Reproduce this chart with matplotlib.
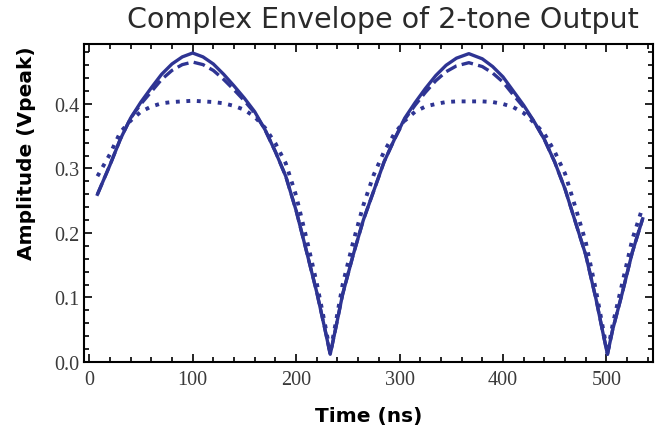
import matplotlib
matplotlib.use('Agg')
import matplotlib.pyplot as plt
from matplotlib.ticker import MultipleLocator, FormatStrFormatter

# time samples (ns)
t = [8, 20, 30, 40, 50, 60, 70, 80, 90, 100,
     110, 120, 130, 140, 150, 160, 170, 180, 190, 200, 210, 220,
     228, 233, 238,
     245, 255, 265, 275, 285, 295, 305, 315, 325, 335, 345, 355,
     367,
     380, 390, 400, 410, 420, 430, 440, 450, 460, 470, 480, 490,
     496, 501, 506, 515, 525, 535]

# solid curve
solid = [0.260, 0.305, 0.345, 0.378, 0.403, 0.425, 0.446, 0.462, 0.473, 0.479,
         0.473, 0.462, 0.446, 0.428, 0.409, 0.388, 0.360, 0.326, 0.288, 0.235, 0.172, 0.108,
         0.050, 0.012, 0.050,
         0.105, 0.165, 0.220, 0.265, 0.310, 0.345, 0.378, 0.402, 0.424, 0.444, 0.460, 0.471,
         0.478,
         0.470, 0.458, 0.442, 0.420, 0.398, 0.373, 0.345, 0.310, 0.268, 0.217, 0.166, 0.097,
         0.050, 0.012, 0.050, 0.105, 0.170, 0.222]

# dashed curve
dashed = [0.260, 0.305, 0.345, 0.378, 0.400, 0.419, 0.438, 0.452, 0.461, 0.465,
          0.461, 0.452, 0.438, 0.422, 0.405, 0.386, 0.360, 0.326, 0.288, 0.235, 0.172, 0.108,
          0.050, 0.012, 0.050,
          0.105, 0.165, 0.220, 0.265, 0.310, 0.345, 0.376, 0.398, 0.418, 0.436, 0.450, 0.459,
          0.464,
          0.458, 0.448, 0.434, 0.414, 0.395, 0.373, 0.345, 0.310, 0.268, 0.217, 0.166, 0.097,
          0.050, 0.012, 0.050, 0.105, 0.170, 0.222]

# dotted curve
dotted = [0.288, 0.322, 0.356, 0.374, 0.388, 0.396, 0.401, 0.403, 0.404, 0.405,
          0.404, 0.403, 0.401, 0.397, 0.391, 0.380, 0.363, 0.339, 0.308, 0.258, 0.192, 0.122,
          0.058, 0.015, 0.058,
          0.120, 0.185, 0.243, 0.290, 0.326, 0.354, 0.374, 0.388, 0.396, 0.400, 0.403, 0.404,
          0.404,
          0.404, 0.403, 0.400, 0.395, 0.386, 0.371, 0.354, 0.326, 0.292, 0.240, 0.186, 0.110,
          0.058, 0.015, 0.058, 0.120, 0.190, 0.240]

col = '#2e3493'

fig = plt.figure(figsize=(6.7, 4.35), dpi=100)
ax = fig.add_axes([0.1254, 0.1655, 0.8492, 0.7311])

ax.plot(t, solid, color=col, lw=2.4, ls='-')
ax.plot(t, dashed, color=col, lw=2.4, ls=(0, (3.5, 1.6)))
ax.plot(t, dotted, color=col, lw=2.8, ls=(0, (1.0, 1.7)))

ax.set_xlim(-5, 545)
ax.set_ylim(0, 0.493)

ax.xaxis.set_major_locator(MultipleLocator(100))
ax.xaxis.set_minor_locator(MultipleLocator(20))
ax.yaxis.set_major_locator(MultipleLocator(0.1))
ax.yaxis.set_minor_locator(MultipleLocator(0.02))
ax.yaxis.set_major_formatter(FormatStrFormatter('%.1f'))

ax.tick_params(which='both', direction='in', top=True, right=True, width=1.2, colors='black')
ax.tick_params(which='major', length=6)
ax.tick_params(which='minor', length=3.5)
ax.tick_params(axis='x', pad=6)
for lab in ax.get_xticklabels() + ax.get_yticklabels():
    lab.set_fontfamily('Liberation Serif')
    lab.set_fontsize(14.5)
    lab.set_color('#3a3a3a')
for sp in ax.spines.values():
    sp.set_linewidth(1.5)

ax.set_xlabel('Time (ns)', fontsize=14.5, fontweight='bold', family='DejaVu Sans Condensed', labelpad=12)
ax.set_ylabel('Amplitude (Vpeak)', fontsize=14.5, fontweight='bold', family='DejaVu Sans Condensed')
ax.yaxis.set_label_coords(-0.085, 0.66)

fig.text(0.572, 0.955, 'Complex Envelope of 2-tone Output', ha='center', va='center',
         fontsize=20.5, family='DejaVu Sans', color='#2a2a2a')

fig.savefig('out.png', dpi=100)
